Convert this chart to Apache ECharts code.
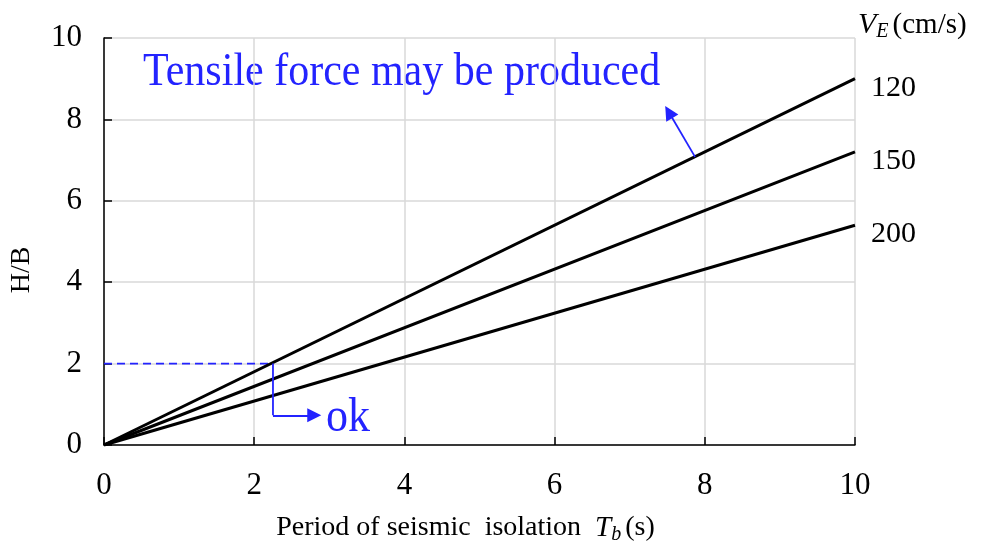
<!DOCTYPE html>
<html>
<head>
<meta charset="utf-8">
<script src="https://cdn.jsdelivr.net/npm/echarts@6/dist/echarts.min.js"></script>
<style>
  html, body { margin: 0; padding: 0; background: #fff; }
  #chart { width: 985px; height: 550px; }
</style>
</head>
<body>
<div id="chart"></div>
<script>
// Period of seismic isolation Tb (s) at the two ends of each line
const periods = [0, 10];
// Velocity levels VE (cm/s) and the H/B ratio reached at each period
const velocityLabels = ['120', '150', '200'];
const hb120 = [0, 9.0];
const hb150 = [0, 7.2];
const hb200 = [0, 5.4];

// Axis ticks
const xTicks = [0, 2, 4, 6, 8, 10];
const yTicks = [0, 2, 4, 6, 8, 10];

// Guide: H/B = 2 read across to the VE = 120 line, then down to "ok"
const guideDashed = [[0, 2], [2.22, 2]];
const guideOkDrop = [[2.25, 2], [2.25, 0.73]];
const guideOkArrow = [[2.25, 0.73], [2.80, 0.73]];
// Arrow pointing into the tensile region above the VE = 120 line
const guideTensile = [[7.87, 7.08], [7.52, 8.18]];

const serif = '"Liberation Serif", "DejaVu Serif", serif';
const blue = '#2323ff';

const chart = echarts.init(document.getElementById('chart'));

const hbSets = [hb120, hb150, hb200];
const lineSeries = velocityLabels.map((v, i) => ({
  name: v,
  type: 'line',
  data: periods.map((t, k) => [t, hbSets[i][k]]),
  symbol: 'none',
  lineStyle: { color: '#000', width: 3 },
  z: 3,
  endLabel: {
    show: true,
    formatter: '{a}',
    distance: 16,
    offset: [0, 9],
    color: '#000',
    fontFamily: serif,
    fontSize: 30
  }
}));

chart.setOption({
  animation: false,
  grid: { left: 104, right: 130, top: 38, bottom: 102 },
  xAxis: {
    type: 'value',
    min: xTicks[0],
    max: xTicks[xTicks.length - 1],
    interval: 2,
    name: 'Period of seismic  isolation  {it|T}{sub|b}(s)',
    nameLocation: 'middle',
    nameGap: 66,
    nameTextStyle: {
      color: '#000', fontFamily: serif, fontSize: 28,
      padding: [0, 28, 0, 0],
      rich: {
        it: { fontStyle: 'italic', fontFamily: serif, fontSize: 29, color: '#000' },
        sub: { fontStyle: 'italic', fontFamily: serif, fontSize: 20, color: '#000', verticalAlign: 'bottom', padding: [14, 4, 0, 0] }
      }
    },
    axisLine: { show: true, lineStyle: { color: '#000', width: 1.5 } },
    axisTick: { show: true, inside: true, length: 8, lineStyle: { color: '#000', width: 1.5 } },
    axisLabel: { color: '#000', fontFamily: serif, fontSize: 31, margin: 25 },
    splitLine: { show: true, lineStyle: { color: '#d9d9d9', width: 1.5 } }
  },
  yAxis: {
    type: 'value',
    min: yTicks[0],
    max: yTicks[yTicks.length - 1],
    interval: 2,
    axisLine: { show: true, lineStyle: { color: '#000', width: 1.5 } },
    axisTick: { show: true, inside: true, length: 8, lineStyle: { color: '#000', width: 1.5 } },
    axisLabel: { color: '#000', fontFamily: serif, fontSize: 31, margin: 22 },
    splitLine: { show: true, lineStyle: { color: '#d9d9d9', width: 1.5 } }
  },
  series: lineSeries.concat([
    {
      type: 'line',
      data: guideDashed,
      symbol: 'none',
      lineStyle: { color: blue, width: 1.6, type: [8, 5] },
      z: 2
    },
    {
      type: 'line',
      data: guideOkDrop,
      symbol: 'none',
      lineStyle: { color: blue, width: 1.8 },
      z: 4
    },
    {
      type: 'lines',
      coordinateSystem: 'cartesian2d',
      symbol: ['none', 'triangle'],
      symbolSize: [14, 14],
      lineStyle: { color: blue, width: 1.8, opacity: 1, curveness: 0 },
      data: [{ coords: guideOkArrow }, { coords: guideTensile }],
      z: 4
    }
  ]),
  graphic: [
    {
      type: 'text', x: 22, y: 270, rotation: Math.PI / 2,
      style: { text: 'H/B', fill: '#000', font: '28px ' + serif, textAlign: 'center', textVerticalAlign: 'middle' }
    },
    {
      type: 'text', x: 143, y: 73, scaleY: 1.1,
      style: { text: 'Tensile force may be produced', fill: blue, font: '42px ' + serif, textVerticalAlign: 'middle' }
    },
    {
      type: 'text', x: 326, y: 418, scaleY: 1.1,
      style: { text: 'ok', fill: blue, font: '44px ' + serif, textVerticalAlign: 'middle' }
    },
    {
      type: 'text', x: 858, y: 25,
      style: {
        text: '{v|V}{e|E}(cm/s)',
        textVerticalAlign: 'middle',
        fill: '#000',
        font: '29px ' + serif,
        rich: {
          v: { fontStyle: 'italic', fontFamily: serif, fontSize: 30, fill: '#000' },
          e: { fontStyle: 'italic', fontFamily: serif, fontSize: 20, fill: '#000', verticalAlign: 'bottom', padding: [14, 4, 0, 0] }
        }
      }
    }
  ]
});
</script>
</body>
</html>
